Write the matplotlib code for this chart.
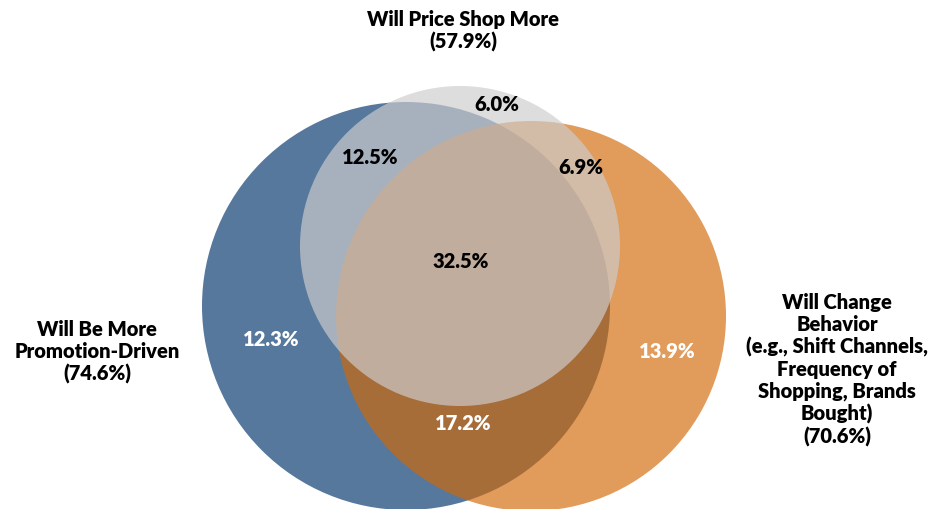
import matplotlib
matplotlib.use("Agg")
import matplotlib.pyplot as plt
from matplotlib.patches import Circle

# Set names and totals
set_names = ["Will Be More\nPromotion-Driven", "Will Change\nBehavior\n(e.g., Shift Channels,\nFrequency of\nShopping, Brands\nBought)", "Will Price Shop More"]
set_totals = ["74.6%", "70.6%", "57.9%"]

# Region values
region_labels = ["12.3%", "13.9%", "6.0%", "17.2%", "12.5%", "6.9%", "32.5%"]
region_keys = ["blue_only", "orange_only", "grey_only", "blue_orange", "blue_grey", "orange_grey", "all"]
region_text_colors = ["white", "white", "black", "white", "black", "black", "black"]

# Circle geometry (pixel coordinates of the 932x509 canvas)
circle_centers = [(406, 306), (531, 316), (460, 246)]
circle_radii = [204, 195, 160]
circle_colors = ["#56789D", (210/255, 104/255, 5/255), (205/255, 205/255, 205/255)]
circle_alphas = [1.0, 0.66, 0.68]

region_positions = [(271, 339), (667, 352), (497, 104), (463, 423), (370, 157), (581, 167), (461, 262)]

plt.rcParams['font.family'] = ['Lato', 'DejaVu Sans']

fig = plt.figure(figsize=(9.32, 5.09), dpi=100)
ax = fig.add_axes([0, 0, 1, 1])
ax.set_xlim(0, 932)
ax.set_ylim(509, 0)
ax.set_aspect('equal')
ax.axis('off')

for c, r, col, a in zip(circle_centers, circle_radii, circle_colors, circle_alphas):
    ax.add_patch(Circle(c, r, facecolor=col, alpha=a, edgecolor='none'))

fs = 14.5
for lab, pos, tc in zip(region_labels, region_positions, region_text_colors):
    ax.text(pos[0], pos[1], lab, ha='center', va='center', fontsize=fs,
            fontweight='heavy', color=tc)

ax.text(97, 352, set_names[0] + "\n(" + set_totals[0] + ")", ha='center', va='center',
        fontsize=fs, fontweight='heavy', linespacing=1.17)
ax.text(837, 370, set_names[1] + "\n(" + set_totals[1] + ")", ha='center', va='center',
        fontsize=fs, fontweight='heavy', linespacing=1.17)
ax.text(463, 31, set_names[2] + "\n(" + set_totals[2] + ")", ha='center', va='center',
        fontsize=fs, fontweight='heavy', linespacing=1.17)

fig.savefig("out.png", dpi=100)
